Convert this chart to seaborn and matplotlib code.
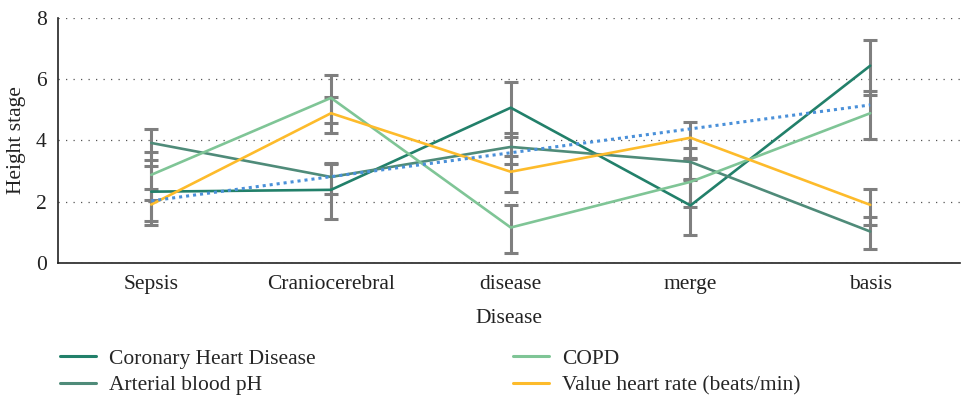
import matplotlib
matplotlib.use("Agg")
import matplotlib.pyplot as plt
import seaborn as sns
import numpy as np
import pandas as pd

categories = ["Sepsis", "Craniocerebral", "disease", "merge", "basis"]
series_names = ["Coronary Heart Disease", "Arterial blood pH", "COPD", "Value heart rate (beats/min)"]
chd = [2.33, 2.39, 5.07, 1.88, 6.44]
ph = [3.92, 2.81, 3.79, 3.30, 1.03]
copd = [2.88, 5.39, 1.16, 2.65, 4.89]
hr = [1.91, 4.89, 2.98, 4.09, 1.90]
trend = [2.03, 2.82, 3.60, 4.38, 5.16]
err_up = [0.84, 0.47, 0.74, 0.52]
err_low = [0.95, 0.56, 0.83, 0.66]
colors = ["#22806a", "#4f8b79", "#7fc596", "#fdbb2b"]
trend_color = "#4a90d9"

sns.set_style("white")
plt.rcParams["font.family"] = ["Liberation Serif", "DejaVu Serif"]

values = [chd, ph, copd, hr]
df = pd.DataFrame({
    "Disease": categories * 4,
    "value": sum(values, []),
    "series": sum([[n] * len(categories) for n in series_names], []),
})

fig = plt.figure(figsize=(9.63, 3.98), dpi=100)
ax = fig.add_axes([0.060, 0.339, 0.937, 0.616])

x_idx = np.arange(len(categories))
for vals, up, low in zip(values, err_up, err_low):
    ax.errorbar(x_idx, vals, yerr=[[low] * len(vals), [up] * len(vals)], fmt="none",
                ecolor="#7f7f7f", elinewidth=2.2, capsize=5, capthick=2.2, zorder=2)

sns.lineplot(data=df, x="Disease", y="value", hue="series", hue_order=series_names,
             palette=colors, linewidth=1.9, ax=ax, sort=False, zorder=3)
sns.lineplot(x=categories, y=trend, color=trend_color, linestyle=(0, (1, 1.3)),
             linewidth=2.2, ax=ax, zorder=4, legend=False)

ax.set_xlim(-0.52, 4.5)
ax.set_ylim(0, 8)
ax.set_yticks([0, 2, 4, 6, 8])
ax.yaxis.grid(True, linestyle=(0, (1, 5)), color="#555555", linewidth=0.9)
ax.xaxis.grid(False)
for s in ["top", "right"]:
    ax.spines[s].set_visible(False)
for s in ["left", "bottom"]:
    ax.spines[s].set_color("#222222")
    ax.spines[s].set_linewidth(1.2)
ax.tick_params(axis="x", length=0, labelsize=15.5, colors="#222222", pad=8.5)
ax.tick_params(axis="y", length=0, labelsize=15.5, colors="#222222", pad=8)
ax.set_xlabel("Disease", fontsize=15.5, color="#222222", labelpad=11)
ax.set_ylabel("Height stage", fontsize=15.5, color="#222222", labelpad=7)

handles, labels = ax.get_legend_handles_labels()
ax.legend(handles, labels, ncol=2, loc="upper left", bbox_to_anchor=(0.0625, 0.124),
          bbox_transform=fig.transFigure, frameon=False, fontsize=15.5,
          handlelength=1.65, columnspacing=9.2, labelspacing=0.3, handletextpad=0.6,
          borderaxespad=0, borderpad=0)
for line in ax.get_legend().get_lines():
    line.set_linewidth(2.2)

fig.savefig("out.png", dpi=100)
